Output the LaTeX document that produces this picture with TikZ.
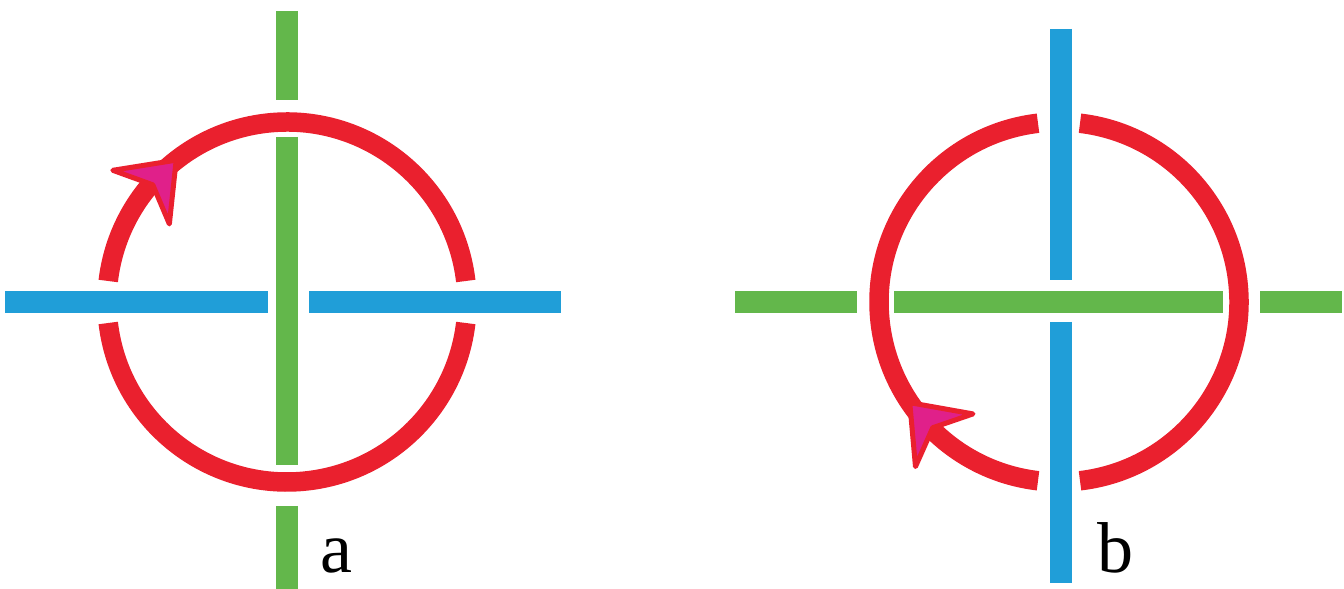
\documentclass[tikz,border=0pt]{standalone}
\usepackage{fontspec}
\setmainfont{Liberation Serif}
\definecolor{cred}{RGB}{234,32,46}
\definecolor{cgreen}{RGB}{99,183,75}
\definecolor{cblue}{RGB}{32,158,216}
\definecolor{cmag}{RGB}{224,32,138}
\tikzset{
  gbar/.style={draw=cgreen, line width=22pt},
  bbar/.style={draw=cblue, line width=22pt},
  ring/.style={draw=cred, line width=19.5pt},
  arrowhd/.style={fill=cmag, draw=cred, line width=5pt, line join=round},
  lbl/.style={inner sep=0pt, text depth=0pt, anchor=base west, font=\fontsize{72}{72}\selectfont}
}
\begin{document}
\begin{tikzpicture}[x=1pt,y=1pt]
\useasboundingbox (0,0) rectangle (1344,589);
% ---------- diagram a ----------
\coordinate (ca) at (287,287);
\draw[bbar] (5,286.5) -- (268,286.5);
\draw[bbar] (309,286.5) -- (561,286.5);
\draw[gbar] (287,578) -- (287,489);
\draw[gbar] (287,452) -- (287,124);
\draw[gbar] (287,83) -- (287,0);
\draw[ring] ([shift={(6.7:180)}]ca) arc[start angle=6.7, end angle=173.3, radius=180];
\draw[ring] ([shift={(186.7:180)}]ca) arc[start angle=186.7, end angle=353.3, radius=180];
\begin{scope}[shift={(287,287)}, shift={(128:180)}, rotate=46.5]
  \filldraw[arrowhd] (0,0) -- (-51,39) -- (-34,0) -- (-51,-39) -- cycle;
\end{scope}
\node[lbl] (la) at (320,16) {a};
% ---------- diagram b ----------
\coordinate (cb) at (1059,287);
\draw[gbar] (735,286.5) -- (857,286.5);
\draw[gbar] (894,286.5) -- (1223,286.5);
\draw[gbar] (1260,286.5) -- (1342,286.5);
\draw[bbar] (1060.5,560) -- (1060.5,309);
\draw[bbar] (1060.5,267) -- (1060.5,6);
\draw[ring] ([shift={(96.7:180)}]cb) arc[start angle=96.7, end angle=263.3, radius=180];
\draw[ring] ([shift={(-83.3:180)}]cb) arc[start angle=-83.3, end angle=83.3, radius=180];
\begin{scope}[shift={(1059,287)}, shift={(214:180)}, rotate=132.5]
  \filldraw[arrowhd] (0,0) -- (-51,39) -- (-34,0) -- (-51,-39) -- cycle;
\end{scope}
\node[lbl] (lb) at (1097,16) {b};
\end{tikzpicture}
\end{document}
